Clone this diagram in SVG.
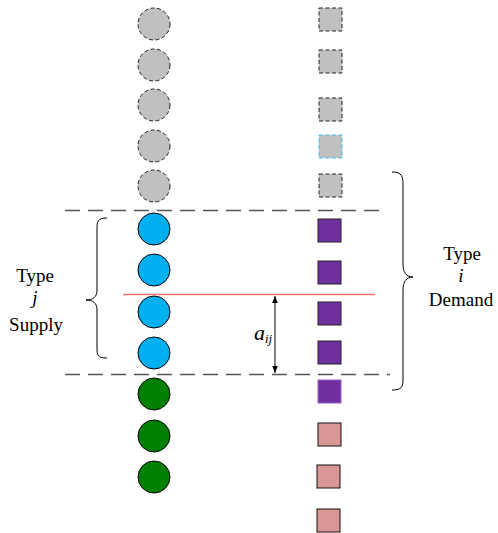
<svg xmlns="http://www.w3.org/2000/svg" width="498" height="533" viewBox="0 0 498 533">
  <defs>
    <style>
      .idle { fill: #c0c0c0; stroke: #222; stroke-width: 1; stroke-dasharray: 4 2.5; }
      .supply { fill: #00b0f0; stroke: #000; stroke-width: 1; }
      .spare { fill: #008000; stroke: #000; stroke-width: 1; }
      .demand { fill: #7030a0; stroke: #222; stroke-width: 1; }
      .pending { fill: #d99694; stroke: #111; stroke-width: 1; }
      .cut { stroke: #555; stroke-width: 1.3; stroke-dasharray: 15 8; fill: none; }
      .brace { fill: none; stroke: #000; stroke-width: 1; }
      .lbl { font-family: "Liberation Serif", "Times New Roman", serif; font-size: 19px; fill: #000; text-anchor: middle; }
      .it { font-style: italic; }
    </style>
    <marker id="head" viewBox="0 0 10 10" refX="10" refY="5" markerWidth="7" markerHeight="9" orient="auto-start-reverse" markerUnits="userSpaceOnUse">
      <path d="M0,1 L10,5 L0,9 Z" fill="#000"/>
    </marker>
  </defs>

  <!-- supply column -->
  <g id="supply-idle">
    <circle class="idle" cx="154" cy="24" r="16"/>
    <circle class="idle" cx="154" cy="65" r="16"/>
    <circle class="idle" cx="154" cy="105" r="16"/>
    <circle class="idle" cx="154" cy="146" r="16"/>
    <circle class="idle" cx="154" cy="186" r="16"/>
  </g>
  <g id="supply-type-j">
    <circle class="supply" cx="154" cy="229" r="16"/>
    <circle class="supply" cx="154" cy="270" r="16"/>
    <circle class="supply" cx="154" cy="312" r="16"/>
    <circle class="supply" cx="154" cy="353" r="16"/>
  </g>
  <g id="supply-rest">
    <circle class="spare" cx="154" cy="394" r="16"/>
    <circle class="spare" cx="154" cy="436" r="16"/>
    <circle class="spare" cx="154" cy="477" r="16"/>
  </g>

  <!-- demand column -->
  <g id="demand-idle">
    <rect class="idle" x="319" y="8" width="23" height="23"/>
    <rect class="idle" x="319" y="50" width="23" height="23"/>
    <rect class="idle" x="319" y="98" width="23" height="23"/>
    <rect class="idle" x="319" y="135" width="23" height="23" style="stroke:#33c0f0"/>
    <rect class="idle" x="319" y="174" width="23" height="23"/>
  </g>
  <g id="demand-type-i">
    <rect class="demand" x="318" y="219" width="23" height="23"/>
    <rect class="demand" x="318" y="261" width="23" height="23"/>
    <rect class="demand" x="318" y="302" width="23" height="23"/>
    <rect class="demand" x="318" y="341" width="23" height="23"/>
    <rect class="demand" x="318" y="380" width="23" height="23" style="stroke:#9a60c8"/>
  </g>
  <g id="demand-rest">
    <rect class="pending" x="318" y="423" width="23" height="23"/>
    <rect class="pending" x="317" y="465" width="23" height="23"/>
    <rect class="pending" x="317" y="509" width="23" height="23"/>
  </g>

  <!-- connectors and markings -->
  <g id="connectors">
    <line class="cut" x1="65" y1="210.5" x2="381" y2="210.5"/>
    <line class="cut" x1="65" y1="374.5" x2="390" y2="374.5"/>
    <line x1="123" y1="294.5" x2="375" y2="294.5" stroke="#f07070" stroke-width="1.3"/>
    <line x1="275" y1="296" x2="275" y2="373" stroke="#000" stroke-width="1" marker-start="url(#head)" marker-end="url(#head)"/>
    <path class="brace" d="M107,218 C97,218 97,222 97,230 L97,290 C97,297 93,300 86,300 C93,300 97,303 97,310 L97,347 C97,355 97,358 107,358"/>
    <path class="brace" d="M392,172 C402,172 403,176 403,186 L403,264 C403,272 406,277 413,277 C406,277 403,282 403,290 L403,378 C403,387 402,390 392,390"/>
  </g>

  <!-- labels -->
  <g id="labels">
    <text class="lbl" x="35" y="282">Type</text>
    <text class="lbl it" x="35" y="304">j</text>
    <text class="lbl" x="36" y="331">Supply</text>
    <text class="lbl" x="462" y="260">Type</text>
    <text class="lbl it" x="461" y="282">i</text>
    <text class="lbl" x="461" y="306">Demand</text>
    <text x="254" y="340" font-family="Liberation Serif, Times New Roman, serif" font-size="22" font-style="italic">a<tspan font-size="13" dy="3">ij</tspan></text>
  </g>
</svg>
